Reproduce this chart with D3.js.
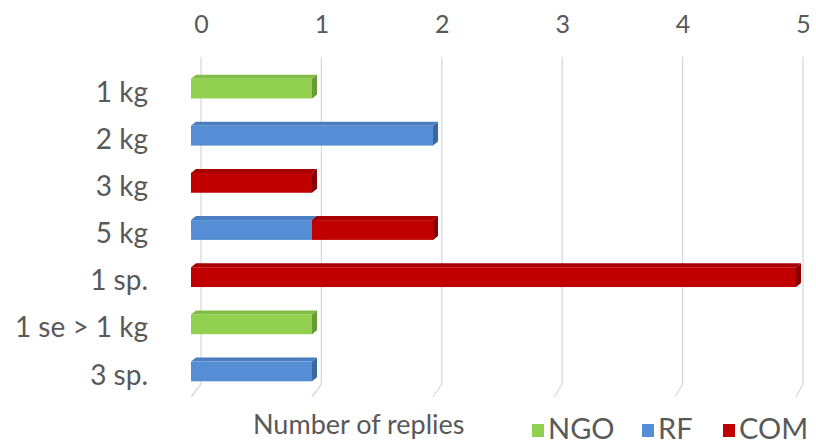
<!DOCTYPE html>
<html><head><meta charset="utf-8">
<script src="https://cdn.jsdelivr.net/npm/d3@7"></script>
<style>body{margin:0;background:#fff}svg{display:block}text{font-family:Lato,"Open Sans",sans-serif;fill:#595959}</style>
</head><body><svg id="c" width="816" height="447"></svg>
<script>
const categories = ["1 kg","2 kg","3 kg","5 kg","1 sp.","1 se > 1 kg","3 sp."];
const NGO = [1,0,0,0,0,1,0];
const RF  = [0,2,0,1,0,0,1];
const COM = [0,0,1,1,5,0,0];
const seriesNames = ["NGO","RF","COM"];
const tickValues = [0,1,2,3,4,5];
const colors = {NGO:"#92D050", RF:"#558ED5", COM:"#C00000"};
const topColors = {NGO:"#82BD45", RF:"#4A7EC0", COM:"#A80000"};
const sideColors = {NGO:"#6A9A35", RF:"#3C68A0", COM:"#8A0000"};

const svg = d3.select("#c");
const table = categories.map((c,i)=>({cat:c, NGO:NGO[i], RF:RF[i], COM:COM[i]}));
const stacked = d3.stack().keys(seriesNames)(table);

const xBack = d3.scaleLinear().domain([0,5]).range([201,803]);
const xFront = d3.scaleLinear().domain([0,5]).range([191,796]);
const y = d3.scaleBand().domain(categories).range([65,395]).paddingInner(0.58).paddingOuter(0.29);

// gridlines (back wall + floor)
const grid = svg.append("g");
tickValues.forEach(t=>{
  grid.append("line").attr("x1",xBack(t)).attr("x2",xBack(t)).attr("y1",57).attr("y2",384)
    .attr("stroke","#D9D9D9").attr("stroke-width",1.3);
  grid.append("line").attr("x1",xBack(t)).attr("x2",xFront(t)).attr("y1",384).attr("y2",397)
    .attr("stroke","#D9D9D9").attr("stroke-width",1.3);
});

// top axis labels
const axis = d3.axisTop(xBack).tickValues(tickValues).tickFormat(d3.format("d")).tickSize(0).tickPadding(0);
const ag = svg.append("g").attr("transform","translate(0,33)").call(axis);
ag.select(".domain").remove();
ag.selectAll("text").attr("font-size",25).attr("fill","#595959").attr("font-family","Lato");

// category labels
const yl = svg.append("g");
categories.forEach(c=>{
  yl.append("text").attr("x",148).attr("y",y(c)+y.bandwidth()/2+6).attr("text-anchor","end")
    .attr("dominant-baseline","middle").attr("font-size",28).text(c);
});

// 3D bars
const dx=5, dy=4;
const bars = svg.append("g");
stacked.forEach(s=>{
  const k = s.key;
  s.forEach((d,i)=>{
    if (d[1]-d[0] <= 0) return;
    const x0 = xFront(d[0]), x1 = xFront(d[1]);
    const yt = y(categories[i]) , yb = yt + y.bandwidth();
    bars.append("path").attr("d",`M${x0},${yt}L${x0+dx},${yt-dy}L${x1+dx},${yt-dy}L${x1},${yt}Z`).attr("fill",topColors[k]);
    bars.append("path").attr("d",`M${x1},${yt}L${x1+dx},${yt-dy}L${x1+dx},${yb-dy}L${x1},${yb}Z`).attr("fill",sideColors[k]);
    bars.append("rect").attr("x",x0).attr("y",yt).attr("width",x1-x0).attr("height",yb-yt).attr("fill",colors[k]);
  });
});

// axis title
svg.append("text").attr("x",253).attr("y",434).attr("font-size",27).text("Number of replies");

// legend
const lg = svg.append("g");
const legX = [532,642,723];
seriesNames.forEach((n,i)=>{
  lg.append("rect").attr("x",legX[i]).attr("y",424).attr("width",12).attr("height",13).attr("fill",colors[n]);
  lg.append("text").attr("x",legX[i]+16).attr("y",439).attr("font-size",29).text(n);
});
</script></body></html>
